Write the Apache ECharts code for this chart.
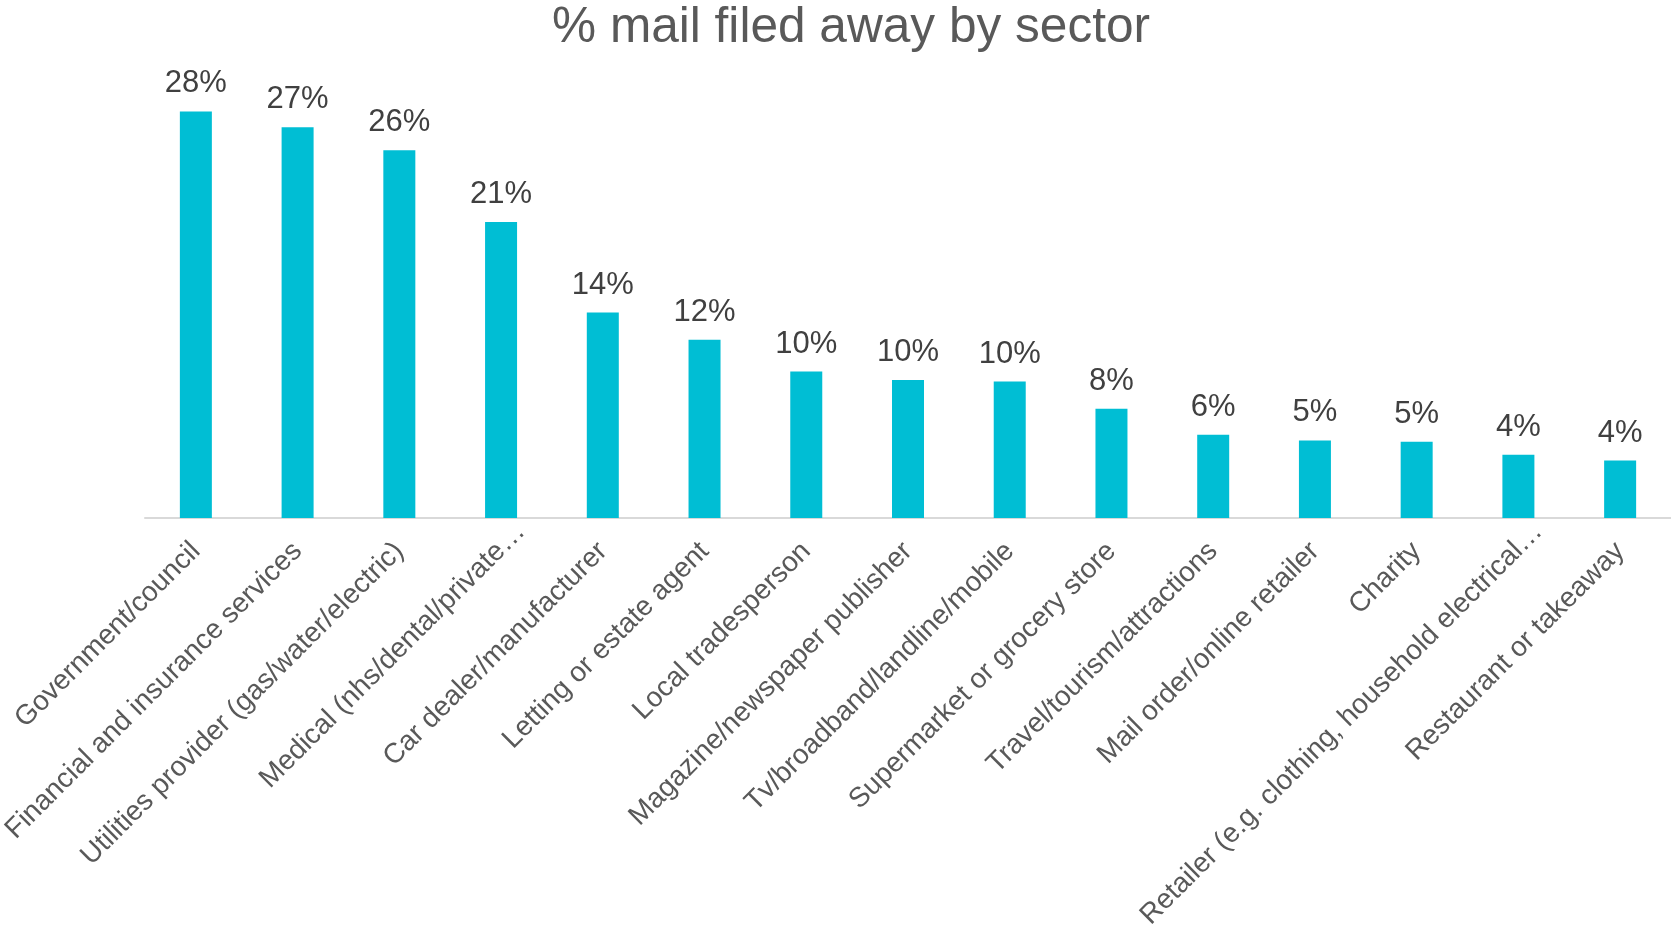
<!DOCTYPE html>
<html>
<head>
<meta charset="utf-8">
<title>% mail filed away by sector</title>
<script src="https://cdn.jsdelivr.net/npm/echarts@6/dist/echarts.min.js"></script>
<style>
  html, body { margin: 0; padding: 0; background: #ffffff; }
  #chart { width: 1671px; height: 928px; }
</style>
</head>
<body>
<div id="chart"></div>
<script>
// Sectors, in the order shown along the axis
const sectors = [
  'Government/council',
  'Financial and insurance services',
  'Utilities provider (gas/water/electric)',
  'Medical (nhs/dental/private\u2026',
  'Car dealer/manufacturer',
  'Letting or estate agent',
  'Local tradesperson',
  'Magazine/newspaper publisher',
  'Tv/broadband/landline/mobile',
  'Supermarket or grocery store',
  'Travel/tourism/attractions',
  'Mail order/online retailer',
  'Charity',
  'Retailer (e.g. clothing, household electrical\u2026',
  'Restaurant or takeaway'
];

// Share of mail filed away, in percent
const filedAway = [28.3, 27.2, 25.6, 20.6, 14.3, 12.4, 10.2, 9.6, 9.5, 7.6, 5.8, 5.4, 5.3, 4.4, 4.0];

const FONT = "'Liberation Sans', Arial, sans-serif";

// Shortened names run a little past their tick, so let the ellipsis overhang
const categoryItems = sectors.map(name =>
  name.endsWith('\u2026')
    ? { value: name, textStyle: { padding: [0, -28, 0, 0] } }
    : name
);

const chart = echarts.init(document.getElementById('chart'), null, { renderer: 'canvas' });

chart.setOption({
  backgroundColor: '#ffffff',
  animation: false,
  title: {
    text: '% mail filed away by sector',
    left: 547,
    top: -2,
    textStyle: {
      fontFamily: FONT,
      fontSize: 49.6,
      fontWeight: 'normal',
      color: '#595959'
    }
  },
  grid: { left: 145, right: 0, top: 87, bottom: 410, outerBoundsMode: 'none', containLabel: false },
  xAxis: {
    type: 'category',
    data: categoryItems,
    axisLine: { show: true, lineStyle: { color: '#d9d9d9', width: 2 } },
    axisTick: { show: false },
    axisLabel: {
      interval: 0,
      rotate: 45,
      margin: 29,
      hideOverlap: false,
      fontFamily: FONT,
      fontSize: 28,
      color: '#595959'
    }
  },
  yAxis: {
    type: 'value',
    min: 0,
    max: 30,
    show: false,
    splitLine: { show: false }
  },
  series: [{
    type: 'bar',
    data: filedAway,
    barWidth: 32,
    itemStyle: { color: '#00bed4' },
    label: {
      show: true,
      position: 'top',
      distance: 12,
      fontFamily: FONT,
      fontSize: 31,
      color: '#404040',
      formatter: p => Math.round(p.value) + '%'
    }
  }]
});
</script>
</body>
</html>
